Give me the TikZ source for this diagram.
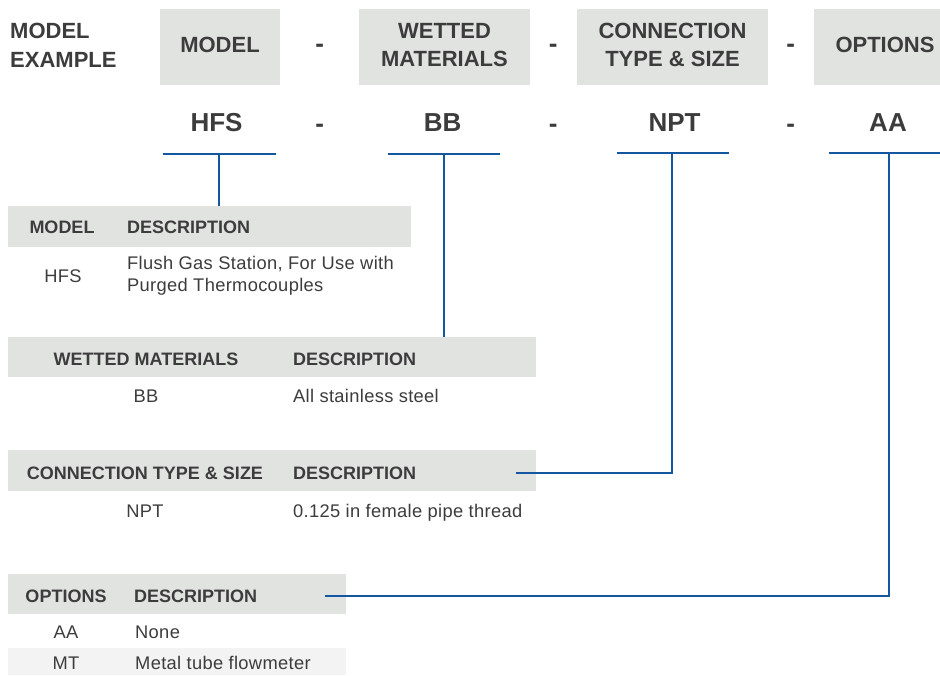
\documentclass[tikz,border=0pt]{standalone}
\usepackage{fontspec}
\setmainfont{Liberation Sans}
\newfontfamily\bodyfont[LetterSpace=1.8]{Liberation Sans}
\definecolor{bandgray}{HTML}{E1E3E1}
\definecolor{rowgray}{HTML}{F2F3F2}
\definecolor{txt}{HTML}{3C3C3C}
\definecolor{lineblue}{HTML}{1456A0}
\begin{document}
\begin{tikzpicture}[x=1pt,y=-1pt,
  band/.style={fill=bandgray, draw=none, inner sep=0pt, outer sep=0pt, anchor=north west},
  lightband/.style={fill=rowgray, draw=none, inner sep=0pt, outer sep=0pt, anchor=north west},
  bighdr/.style={text=txt, inner sep=0pt, font=\fontsize{22}{28.7}\selectfont\bfseries, align=center},
  code/.style={text=txt, inner sep=0pt, font=\fontsize{26}{30}\selectfont\bfseries},
  thdr/.style={text=txt, inner sep=0pt, font=\fontsize{18}{22}\selectfont\bfseries, anchor=base},
  tbody/.style={text=txt, inner sep=0pt, font=\bodyfont\fontsize{18.3}{22}\selectfont, anchor=base},
  conn/.style={draw=lineblue, line width=2.5pt}]
\useasboundingbox (0,0) rectangle (940,675);

% top header boxes
\node[band, minimum width=120pt, minimum height=76pt] (bmodel) at (160,9) {};
\node[band, minimum width=171pt, minimum height=76pt] (bwet) at (359,9) {};
\node[band, minimum width=191pt, minimum height=76pt] (bconn) at (577,9) {};
\node[band, minimum width=126pt, minimum height=76pt] (bopt) at (814,9) {};

\node[bighdr, anchor=west, align=left] (example) at (10,45) {MODEL\\EXAMPLE};
\node[bighdr] (hmodel) at (220,45) {MODEL};
\node[bighdr] (hwet) at (444.5,45) {WETTED\\MATERIALS};
\node[bighdr] (hconn) at (672.5,45) {CONNECTION\\TYPE \& SIZE};
\node[bighdr] (hopt) at (885,45) {OPTIONS};
\node[code, anchor=base] (d1) at (319.7,52.6) {-};
\node[code, anchor=base] (d2) at (553.3,52.6) {-};
\node[code, anchor=base] (d3) at (790.7,52.6) {-};

% example code row
\node[code] (cHFS) at (216.5,122.8) {HFS};
\node[code] (cBB) at (442.6,122.8) {BB};
\node[code] (cNPT) at (674.5,122.8) {NPT};
\node[code] (cAA) at (888,122.8) {AA};
\node[code, anchor=base] (d4) at (319.7,132.4) {-};
\node[code, anchor=base] (d5) at (553.3,132.4) {-};
\node[code, anchor=base] (d6) at (790.7,132.4) {-};

% table 1: model
\node[band, minimum width=403pt, minimum height=41pt] (t1) at (8,206) {};
\node[thdr] (t1a) at (62,233) {MODEL};
\node[thdr, anchor=base west] (t1b) at (127,233) {DESCRIPTION};
\node[tbody] (t1c) at (63,282) {HFS};
\node[tbody, anchor=north west, align=left] (t1d) at (127,256) {Flush Gas Station, For Use with\\Purged Thermocouples};

% table 2: wetted materials
\node[band, minimum width=528pt, minimum height=40pt] (t2) at (8,337) {};
\node[thdr] (t2a) at (146,365) {WETTED MATERIALS};
\node[thdr, anchor=base west] (t2b) at (293,365) {DESCRIPTION};
\node[tbody] (t2c) at (146,402) {BB};
\node[tbody, anchor=base west] (t2d) at (293,402) {All stainless steel};

% table 3: connection
\node[band, minimum width=528pt, minimum height=41pt] (t3) at (8,450) {};
\node[thdr] (t3a) at (145,479) {CONNECTION TYPE \& SIZE};
\node[thdr, anchor=base west] (t3b) at (293,479) {DESCRIPTION};
\node[tbody] (t3c) at (145,517) {NPT};
\node[tbody, anchor=base west] (t3d) at (293,517) {0.125 in female pipe thread};

% table 4: options
\node[band, minimum width=338pt, minimum height=40pt] (t4) at (8,574) {};
\node[lightband, minimum width=338pt, minimum height=27pt] (t4r) at (8,648) {};
\node[thdr] (t4a) at (66,602) {OPTIONS};
\node[thdr, anchor=base west] (t4b) at (134,602) {DESCRIPTION};
\node[tbody] (t4c) at (66,638.5) {AA};
\node[tbody, anchor=base west] (t4d) at (135,638.5) {None};
\node[tbody] (t4e) at (66,669) {MT};
\node[tbody, anchor=base west] (t4f) at (135,669) {Metal tube flowmeter};

% connectors
\coordinate (u1a) at (163,154); \coordinate (u1b) at (276,154); \coordinate (s1) at (219,154);
\coordinate (u2a) at (388,154); \coordinate (u2b) at (500,154); \coordinate (s2) at (444,154);
\coordinate (u3a) at (617,153); \coordinate (u3b) at (729,153); \coordinate (s3) at (672,153);
\coordinate (u4a) at (829,153); \coordinate (u4b) at (940,153); \coordinate (s4) at (889,153);
\coordinate (e3) at (516,473);
\coordinate (e4) at (325,596);

\draw[conn] (u1a) -- (u1b);
\draw[conn] (s1) -- (s1 |- t1.north);
\draw[conn] (u2a) -- (u2b);
\draw[conn] (s2) -- (s2 |- t2.north);
\draw[conn] (u3a) -- (u3b);
\draw[conn] (s3) |- (e3);
\draw[conn] (u4a) -- (u4b);
\draw[conn] (s4) |- (e4);
\end{tikzpicture}
\end{document}
